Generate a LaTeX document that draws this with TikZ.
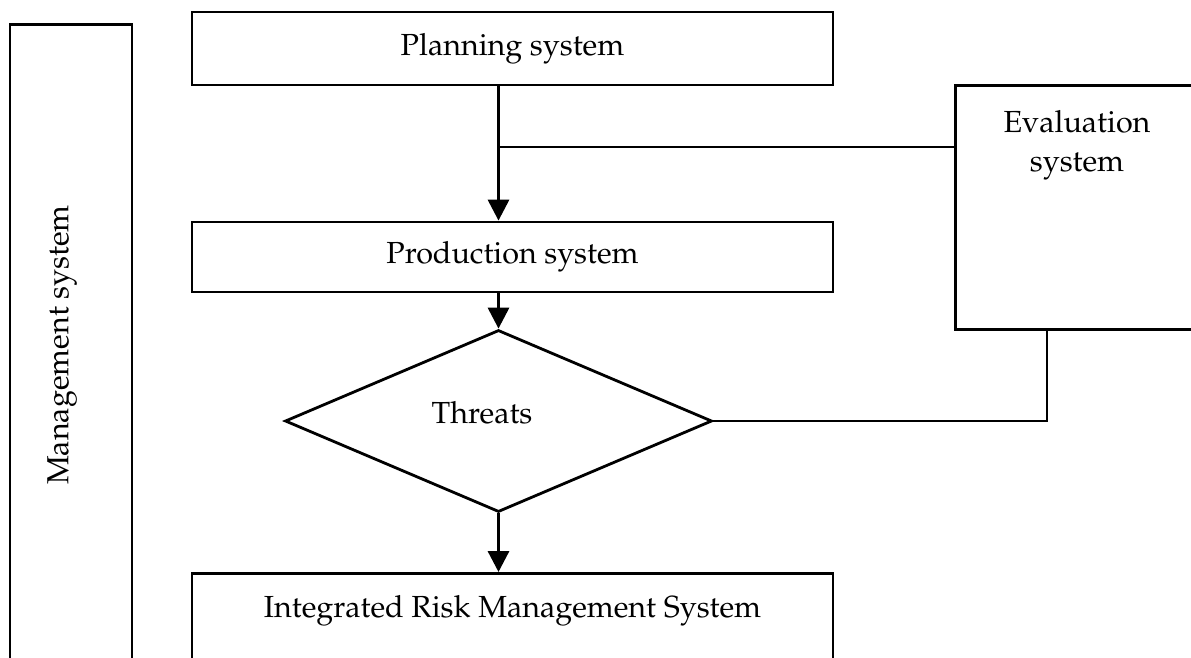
\documentclass[tikz,border=0pt]{standalone}
\usepackage[T1]{fontenc}
\usepackage{mathpazo}
\usetikzlibrary{arrows.meta,positioning,shapes.geometric}

\begin{document}
\begin{tikzpicture}[x=1pt,y=-1pt,
    font=\fontsize{30.5}{39}\selectfont,
    box/.style={draw,line width=2.8pt,rectangle,inner sep=0pt},
    flow/.style={line width=3.2pt,-{Triangle[width=21pt,length=21pt]}},
    link/.style={line width=2.4pt}]
  \clip (0,0) rectangle (1191,657);
  % boxes
  \node[box,minimum width=122,minimum height=700,anchor=north] (mgmt) at (71,23) {};
  \node[rotate=90,inner sep=0pt] (mgmttxt) at (62,345) {Management system};
  \node[box,minimum width=641,minimum height=73] (plan) at (512.5,48.5) {Planning system};
  \node[box,minimum width=641,minimum height=70] (prod) at (512.5,257) {Production system};
  \node[draw,diamond,line width=2.8pt,inner sep=0pt,minimum width=427,minimum height=182] (thr) at (498.5,421) {};
  \node[inner sep=0pt] (thrtxt) at (482,413) {Threats};
  \node[box,minimum width=300,minimum height=244,anchor=north west] (eval) at (954,84) {};
  \node[inner sep=0pt,align=center,anchor=north] (evaltxt) at (1077,110) {Evaluation\\system};
  \node[box,minimum width=641,minimum height=150,anchor=north] (irms) at (512.5,572) {};
  \node[anchor=base] (irmstxt) at (512.5,617) {Integrated Risk Management System};
  % connectors
  \coordinate (tap) at (498.5,147);
  \coordinate (back) at (1047,328);
  \draw[flow] (plan.south -| thr.north) -- (prod.north -| thr.north);
  \draw[link] (tap) -- (tap -| eval.west);
  \draw[flow] (prod.south -| thr.north) -- (thr.north);
  \draw[flow] (thr.south) -- (irms.north -| thr.south);
  \draw[link] (thr.east) -- (thr.east -| back) -- (back);
\end{tikzpicture}
\end{document}
